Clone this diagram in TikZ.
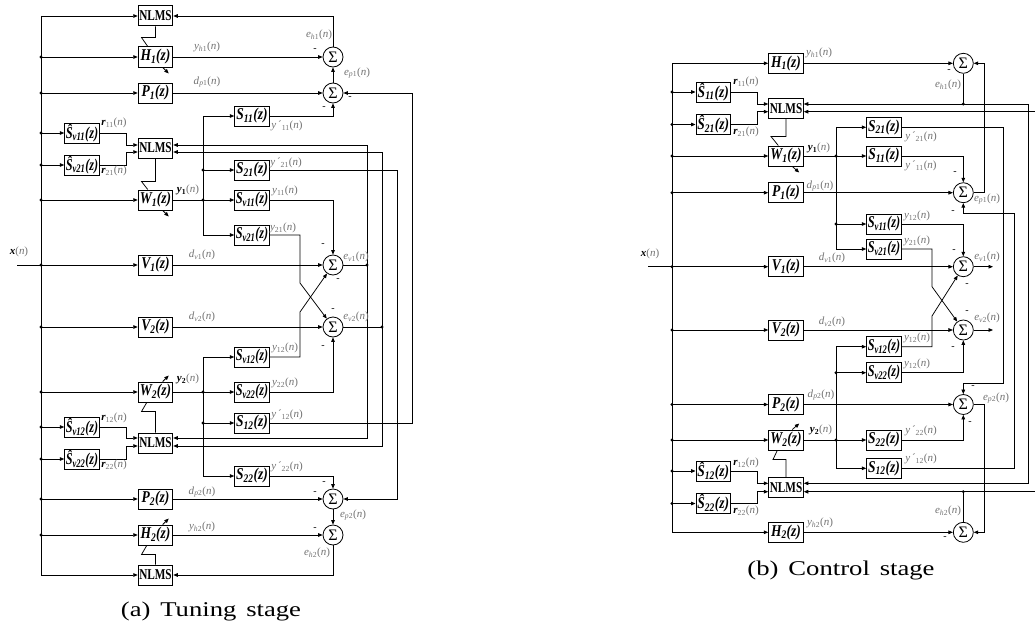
\documentclass[tikz,border=0pt]{standalone}
\usepackage{fontspec}
\setmainfont{Liberation Serif}
\usepackage{graphicx}
\usetikzlibrary{arrows.meta,calc}

\newsavebox\lbox
\newcommand{\BL}[1]{\sbox\lbox{\fontsize{16.5}{16.5}\selectfont\bfseries\itshape #1}%
  \ifdim\wd\lbox>40pt\resizebox{32.5pt}{\ht\lbox}{\usebox\lbox}\else\scalebox{0.82}[1]{\usebox\lbox}\fi}
\newcommand{\NL}{\scalebox{0.75}[1]{\fontsize{15}{15}\selectfont\bfseries NLMS}}
\newcommand{\SIG}{\fontsize{16}{16}\selectfont Σ}
\newcommand{\SG}[2]{\textit{#1}\textsubscript{#2}(\textit{n})}
\newcommand{\SGQ}[1]{\textit{y}\,´\textsubscript{#1}(\textit{n})}
\newcommand{\SR}[1]{\textcolor{black}{\textbf{\textit{r}}}\textsubscript{#1}(\textit{n})}
\newcommand{\SY}[1]{\textcolor{black}{\textbf{\textit{y}}\textsubscript{\textbf{#1}}}(\textit{n})}
\newcommand{\SX}{\textcolor{black}{\textbf{\textit{x}}}(\textit{n})}
\newcounter{lc}
\newcommand{\LB}[2]{\stepcounter{lc}\node[lbl] (L\thelc) at (#1) {#2};}
\newcommand{\MN}[1]{\stepcounter{lc}\node[mn] (L\thelc) at (#1) {-};}

\begin{document}
\begin{tikzpicture}[x=1pt,y=-1pt,
  blk/.style={draw, fill=white, line width=1pt, minimum width=34.5pt, minimum height=20pt, inner sep=0pt},
  sumn/.style={draw, circle, fill=white, line width=0.8pt, minimum size=20pt, inner sep=0pt},
  arr/.style={-{Triangle[length=4.5pt,width=3.6pt]}},
  lbl/.style={text=black!55, font=\fontsize{11}{11}\selectfont, inner sep=0pt},
  mn/.style={font=\fontsize{10}{10}\selectfont, inner sep=0pt},
  every path/.style={line width=0.75pt}]
\fill[white] (0,0) rectangle (1035,626);
\useasboundingbox (0,0) rectangle (1035,626);

%%%%%%%%%%%%%%%% (a) Tuning stage
\node[blk] (aN0) at (155.5,16) {\NL};
\node[blk] (aH1) at (155.5,57) {\BL{H\textsubscript{1}(z)}};
\node[blk] (aP1) at (155.5,93) {\BL{P\textsubscript{1}(z)}};
\node[blk] (aS11) at (252,116) {\BL{S\textsubscript{11}(z)}};
\node[blk] (aR11) at (82,133) {\BL{Ŝ\textsubscript{v11}(z)}};
\node[blk] (aN1) at (155.5,148) {\NL};
\node[blk] (aR21) at (82,165) {\BL{Ŝ\textsubscript{v21}(z)}};
\node[blk] (aS21) at (252,170) {\BL{S\textsubscript{21}(z)}};
\node[blk] (aW1) at (155.5,200) {\BL{W\textsubscript{1}(z)}};
\node[blk] (aSv11) at (252,200) {\BL{S\textsubscript{v11}(z)}};
\node[blk] (aSv21) at (252,235) {\BL{S\textsubscript{v21}(z)}};
\node[blk] (aV1) at (155.5,265) {\BL{V\textsubscript{1}(z)}};
\node[blk] (aV2) at (155.5,327) {\BL{V\textsubscript{2}(z)}};
\node[blk] (aSv12) at (252,357) {\BL{S\textsubscript{v12}(z)}};
\node[blk] (aW2) at (155.5,392) {\BL{W\textsubscript{2}(z)}};
\node[blk] (aSv22) at (252,392) {\BL{S\textsubscript{v22}(z)}};
\node[blk] (aS12) at (252,423) {\BL{S\textsubscript{12}(z)}};
\node[blk] (aR12) at (82,427) {\BL{Ŝ\textsubscript{v12}(z)}};
\node[blk] (aN2) at (155.5,443) {\NL};
\node[blk] (aR22) at (82,459) {\BL{Ŝ\textsubscript{v22}(z)}};
\node[blk] (aS22) at (252,476) {\BL{S\textsubscript{22}(z)}};
\node[blk] (aP2) at (155.5,499) {\BL{P\textsubscript{2}(z)}};
\node[blk] (aH2) at (155.5,535) {\BL{H\textsubscript{2}(z)}};
\node[blk] (aN3) at (155.5,575) {\NL};
\node[sumn] (aEh1) at (333,57) {\SIG};
\node[sumn] (aEp1) at (333,93) {\SIG};
\node[sumn] (aEv1) at (333,265) {\SIG};
\node[sumn] (aEv2) at (333,327) {\SIG};
\node[sumn] (aEp2) at (333,499) {\SIG};
\node[sumn] (aEh2) at (333,535) {\SIG};

% bus
\coordinate (aT) at (41,16);
\coordinate (aB) at (41,575);
\draw (aT) -- (aB);
\draw[arr] (aT) -- (aN0.west);
\draw[arr] (aB) -- (aN3.west);
\foreach \b in {aH1,aP1,aR11,aR21,aW1,aV1,aV2,aW2,aR12,aR22,aP2,aH2}{
  \draw[arr] (aT |- \b) -- (\b.west);
  \fill (aT |- \b) circle (1.6);
}
\coordinate (aX) at (17,265);
\draw (aX) -- (aT |- aV1);

% direct paths
\draw[arr] (aH1) -- (aEh1);
\draw[arr] (aP1) -- (aEp1);
\draw[arr] (aV1) -- (aEv1);
\draw[arr] (aV2) -- (aEv2);
\draw[arr] (aP2) -- (aEp2);
\draw[arr] (aH2) -- (aEh2);
\draw[arr] (aEp1) -- (aEh1);
\draw[arr] (aEp2) -- (aEh2);
\draw[arr] (aEh1.north) -- (aEh1.north |- aN0) -- (aN0.east);
\draw[arr] (aEh2.south) -- (aEh2.south |- aN3) -- (aN3.east);

% adaptation links
\draw (aN0.south) -- ++(0,11) -- ++(-14,0) -- ($(aH1.north west)+(10,0)$);
\draw[arr] ($(aH1.south west)+(25,0)$) -- ++(6,6);
\draw (aN1.south) -- ++(0,23) -- ++(-14,0) -- ($(aW1.north west)+(10,0)$);
\draw[arr] ($(aW1.south west)+(25,0)$) -- ++(6,6);
\draw (aN2.north) -- ++(0,-21) -- ++(-14,0) -- ($(aW2.south west)+(9,0)$);
\draw[arr] ($(aW2.north west)+(25,0)$) -- ++(6,-6);
\draw (aN3.north) -- ++(0,-10) -- ++(-14,0) -- ($(aH2.south west)+(9,0)$);
\draw[arr] ($(aH2.north west)+(25,0)$) -- ++(6,-6);

% filtered references to NLMS
\draw[arr] (aR11) -- (126,133) -- (126,145) -- (aN1.west |- 0,145);
\draw[arr] (aR21) -- (126,165) -- (126,152) -- (aN1.west |- 0,152);
\draw[arr] (aR12) -- (126,427) -- (126,438) -- (aN2.west |- 0,438);
\draw[arr] (aR22) -- (126,459) -- (126,446) -- (aN2.west |- 0,446);

% W1 branch
\coordinate (aJ1) at (203,200);
\draw (aW1) -- (aJ1);
\draw[arr] (aJ1) -- (aSv11);
\draw (203,116) -- (203,235);
\draw[arr] (203,116) -- (aS11);
\draw[arr] (203,170) -- (aS21);
\draw[arr] (203,235) -- (aSv21);
\fill (203,170) circle (1.6);
\fill (aJ1) circle (1.6);

% W2 branch
\coordinate (aJ2) at (203,392);
\draw (aW2) -- (aJ2);
\draw[arr] (aJ2) -- (aSv22);
\draw (203,357) -- (203,476);
\draw[arr] (203,357) -- (aSv12);
\draw[arr] (203,423) -- (aS12);
\draw[arr] (203,476) -- (aS22);
\fill (aJ2) circle (1.6);
\fill (203,423) circle (1.6);

% secondary path outputs
\draw[arr] (aS11) -| (aEp1);
\draw[arr] (aS21) -- (397,170) |- (aEp2);
\draw[arr] (aSv11) -| (aEv1);
\draw[arr] (aSv21) -| (300,283) -- (aEv2);
\draw[arr] (aSv12) -| (300,312) -- (aEv1);
\draw[arr] (aSv22) -| (aEv2);
\draw[arr] (aS12) -- (412,423) |- (aEp1);
\draw[arr] (aS22) -| (aEp2);

% errors to NLMS
\coordinate (aK1) at (367,265);
\coordinate (aK2) at (382,327);
\draw (aEv1) -- (aK1);
\draw (aEv2) -- (aK2);
\fill (aK1) circle (1.6);
\fill (aK2) circle (1.6);
\draw[arr] (aK1) |- (aN1.east |- 0,145);
\draw[arr] (aK1) |- (aN2.east |- 0,438);
\draw[arr] (aK2) |- (aN1.east |- 0,152);
\draw[arr] (aK2) |- (aN2.east |- 0,446);

% labels (a)
\LB{319,35}{\SG{e}{\textit{h}1}}
\LB{207,47}{\SG{y}{\textit{h}1}}
\LB{207,82}{\SG{d}{\textit{p}1}}
\LB{357,73}{\SG{e}{\textit{p}1}}
\LB{287,126}{\SGQ{11}}
\LB{114,123}{\SR{11}}
\LB{114,171}{\SR{21}}
\LB{286,163}{\SGQ{21}}
\LB{188,190}{\SY{1}}
\LB{285,191}{\SG{y}{11}}
\LB{283,228}{\SG{y}{21}}
\LB{19,252}{\SX}
\LB{202,255}{\SG{d}{\textit{v}1}}
\LB{356,257}{\SG{e}{\textit{v}1}}
\LB{202,317}{\SG{d}{\textit{v}2}}
\LB{356,317}{\SG{e}{\textit{v}2}}
\LB{285,348}{\SG{y}{12}}
\LB{188,379}{\SY{2}}
\LB{285,383}{\SG{y}{22}}
\LB{287,415}{\SGQ{12}}
\LB{114,418}{\SR{12}}
\LB{114,465}{\SR{22}}
\LB{287,467}{\SGQ{22}}
\LB{202,492}{\SG{d}{\textit{p}2}}
\LB{353,515}{\SG{e}{\textit{p}2}}
\LB{202,527}{\SG{y}{\textit{h}2}}
\LB{317,553}{\SG{e}{\textit{h}2}}
\MN{315,50}
\MN{350,98}
\MN{324,108}
\MN{323,245}
\MN{338,280}
\MN{333,310}
\MN{323,347}
\MN{324,483}
\MN{315,493}
\MN{315,529}
\node (capA) at (211,611) {\scalebox{1.27}[1]{\fontsize{21}{21}\selectfont (a)\hspace{2.5pt} Tuning\hspace{2.5pt} stage}};

%%%%%%%%%%%%%%%% (b) Control stage
\node[blk] (bH1) at (786,63.3) {\BL{H\textsubscript{1}(z)}};
\node[blk] (bR11) at (713.3,92) {\BL{Ŝ\textsubscript{11}(z)}};
\node[blk] (bN1) at (786,108.3) {\NL};
\node[blk] (bR21) at (713.3,124.5) {\BL{Ŝ\textsubscript{21}(z)}};
\node[blk] (bS21) at (884,127.3) {\BL{S\textsubscript{21}(z)}};
\node[blk] (bW1) at (786,156) {\BL{W\textsubscript{1}(z)}};
\node[blk] (bS11) at (884,156) {\BL{S\textsubscript{11}(z)}};
\node[blk] (bP1) at (786,192.7) {\BL{P\textsubscript{1}(z)}};
\node[blk] (bSv11) at (884,224) {\BL{S\textsubscript{v11}(z)}};
\node[blk] (bSv21) at (884,249) {\BL{S\textsubscript{v21}(z)}};
\node[blk] (bV1) at (786,266.7) {\BL{V\textsubscript{1}(z)}};
\node[blk] (bV2) at (786,330) {\BL{V\textsubscript{2}(z)}};
\node[blk] (bSv12) at (884,346.7) {\BL{S\textsubscript{v12}(z)}};
\node[blk] (bSv22) at (884,372.7) {\BL{S\textsubscript{v22}(z)}};
\node[blk] (bP2) at (786,404.5) {\BL{P\textsubscript{2}(z)}};
\node[blk] (bW2) at (786,440) {\BL{W\textsubscript{2}(z)}};
\node[blk] (bS22) at (884,440) {\BL{S\textsubscript{22}(z)}};
\node[blk] (bS12) at (884,468.3) {\BL{S\textsubscript{12}(z)}};
\node[blk] (bR12) at (713.3,471) {\BL{Ŝ\textsubscript{12}(z)}};
\node[blk] (bN2) at (786,487.7) {\NL};
\node[blk] (bR22) at (713.3,503.5) {\BL{Ŝ\textsubscript{22}(z)}};
\node[blk] (bH2) at (786,532.3) {\BL{H\textsubscript{2}(z)}};
\node[sumn] (bEh1) at (963.3,63.3) {\SIG};
\node[sumn] (bEp1) at (963.3,192.7) {\SIG};
\node[sumn] (bEv1) at (963.3,266.7) {\SIG};
\node[sumn] (bEv2) at (963.3,330) {\SIG};
\node[sumn] (bEp2) at (963.3,404.5) {\SIG};
\node[sumn] (bEh2) at (963.3,532.3) {\SIG};

% bus
\coordinate (bT) at (672,63.3);
\coordinate (bB) at (672,532.3);
\draw (bT) -- (bB);
\draw[arr] (bT) -- (bH1);
\draw[arr] (bB) -- (bH2);
\foreach \b in {bR11,bR21,bW1,bP1,bV1,bV2,bP2,bW2,bR12,bR22}{
  \draw[arr] (bT |- \b) -- (\b.west);
  \fill (bT |- \b) circle (1.6);
}
\coordinate (bX) at (648,266.7);
\draw (bX) -- (bT |- bV1);

% direct paths
\draw[arr] (bH1) -- (bEh1);
\draw[arr] (bP1) -- (bEp1);
\draw[arr] (bV1) -- (bEv1);
\draw[arr] (bV2) -- (bEv2);
\draw[arr] (bP2) -- (bEp2);
\draw[arr] (bH2) -- (bEh2);
\draw[arr] (bEp1) -- (984,192.7) -- (984,63.3) -- (bEh1);
\draw[arr] (bEp2) -- (984,404.5) |- (bEh2);
\coordinate (bOv1) at (993,266.7);
\coordinate (bOv2) at (993,330);
\draw[arr] (bEv1) -- (bOv1);
\draw[arr] (bEv2) -- (bOv2);

% error feedback to NLMS
\coordinate (bK1) at (963.3,104);
\coordinate (bK2) at (963.3,491.7);
\draw (bEh1) -- (bK1);
\draw (bEh2) -- (bK2);
\fill (bK1) circle (1.6);
\fill (bK2) circle (1.6);
\draw[arr] (1028,104) -- (bN1.east |- 0,104);
\draw[arr] (1028,104) |- (bN2.east |- 0,483.3);
\draw[arr] (1035,491.7) -- (bN2.east |- 0,491.7);
\draw[arr] (1035,111.7) -- (bN1.east |- 0,111.7);

% filtered references to NLMS
\draw[arr] (bR11) -- (757,92) -- (757,104) -- (bN1.west |- 0,104);
\draw[arr] (bR21) -- (757,124.5) -- (757,111.7) -- (bN1.west |- 0,111.7);
\draw[arr] (bR12) -- (757,471) -- (757,483.3) -- (bN2.west |- 0,483.3);
\draw[arr] (bR22) -- (757,503.5) -- (757,491.7) -- (bN2.west |- 0,491.7);

% adaptation links
\draw (bN1.south) -- ++(0,17.7) -- ++(-15,0) -- ($(bW1.north west)+(10,0)$);
\draw[arr] ($(bW1.south west)+(24,0)$) -- ++(7,6);
\draw (bN2.north) -- ++(0,-17.7) -- ++(-13,0) -- ($(bW2.south west)+(9,0)$);
\draw[arr] ($(bW2.north west)+(24,0)$) -- ++(7,-6);

% W1 branch
\coordinate (bJ1) at (836,156);
\draw (bW1) -- (bJ1);
\draw[arr] (bJ1) -- (bS11);
\draw (836,127.3) -- (836,249);
\draw[arr] (836,127.3) -- (bS21);
\draw[arr] (836,224) -- (bSv11);
\draw[arr] (836,249) -- (bSv21);
\fill (bJ1) circle (1.6);
\fill (836,224) circle (1.6);

% W2 branch
\coordinate (bJ2) at (836,440);
\draw (bW2) -- (bJ2);
\draw[arr] (bJ2) -- (bS22);
\draw (836,346.7) -- (836,468.3);
\draw[arr] (836,346.7) -- (bSv12);
\draw[arr] (836,372.7) -- (bSv22);
\draw[arr] (836,468.3) -- (bS12);
\fill (bJ2) circle (1.6);
\fill (836,372.7) circle (1.6);

% secondary path outputs
\draw[arr] (bS21) -- (1003,127.3) -- (1003,383.3) -| (bEp2);
\draw[arr] (bS11) -| (bEp1);
\draw[arr] (bSv11) -| (bEv1);
\draw[arr] (bSv21) -| (932,286.7) -- (bEv2);
\draw[arr] (bSv12) -| (932,316) -- (bEv1);
\draw[arr] (bSv22) -| (bEv2);
\draw[arr] (bS22) -| (bEp2);
\draw[arr] (bS12) -- (1014,468.3) -- (1014,213.3) -| (bEp1);

% labels (b)
\LB{819,53}{\SG{y}{\textit{h}1}}
\LB{948,85}{\SG{e}{\textit{h}1}}
\LB{746,82}{\SR{11}}
\LB{746,132}{\SR{21}}
\LB{921,137}{\SGQ{21}}
\LB{819,148}{\SY{1}}
\LB{921,166}{\SGQ{11}}
\LB{820,186}{\SG{d}{\textit{p}1}}
\LB{987,199}{\SG{e}{\textit{p}1}}
\LB{917,216}{\SG{y}{12}}
\LB{917,241}{\SG{y}{21}}
\LB{650,254}{\SX}
\LB{832,258}{\SG{d}{\textit{v}1}}
\LB{987,257}{\SG{e}{\textit{v}1}}
\LB{832,322}{\SG{d}{\textit{v}2}}
\LB{987,318}{\SG{e}{\textit{v}2}}
\LB{917,338}{\SG{y}{12}}
\LB{917,364}{\SG{y}{12}}
\LB{821,395}{\SG{d}{\textit{p}2}}
\LB{996,398}{\SG{e}{\textit{p}2}}
\LB{821,430}{\SY{2}}
\LB{921,431}{\SGQ{22}}
\LB{921,459}{\SGQ{12}}
\LB{746,463}{\SR{12}}
\LB{746,511}{\SR{22}}
\LB{948,511}{\SG{e}{\textit{h}2}}
\LB{820,523}{\SG{y}{\textit{h}2}}
\MN{949,71}
\MN{955,173}
\MN{953,212}
\MN{954,251}
\MN{967,285}
\MN{967,312}
\MN{953,348}
\MN{973,387}
\MN{970,423}
\MN{945,538}
\node (capB) at (841,570) {\scalebox{1.27}[1]{\fontsize{21}{21}\selectfont (b)\hspace{2.5pt} Control\hspace{2.5pt} stage}};
\end{tikzpicture}
\end{document}
